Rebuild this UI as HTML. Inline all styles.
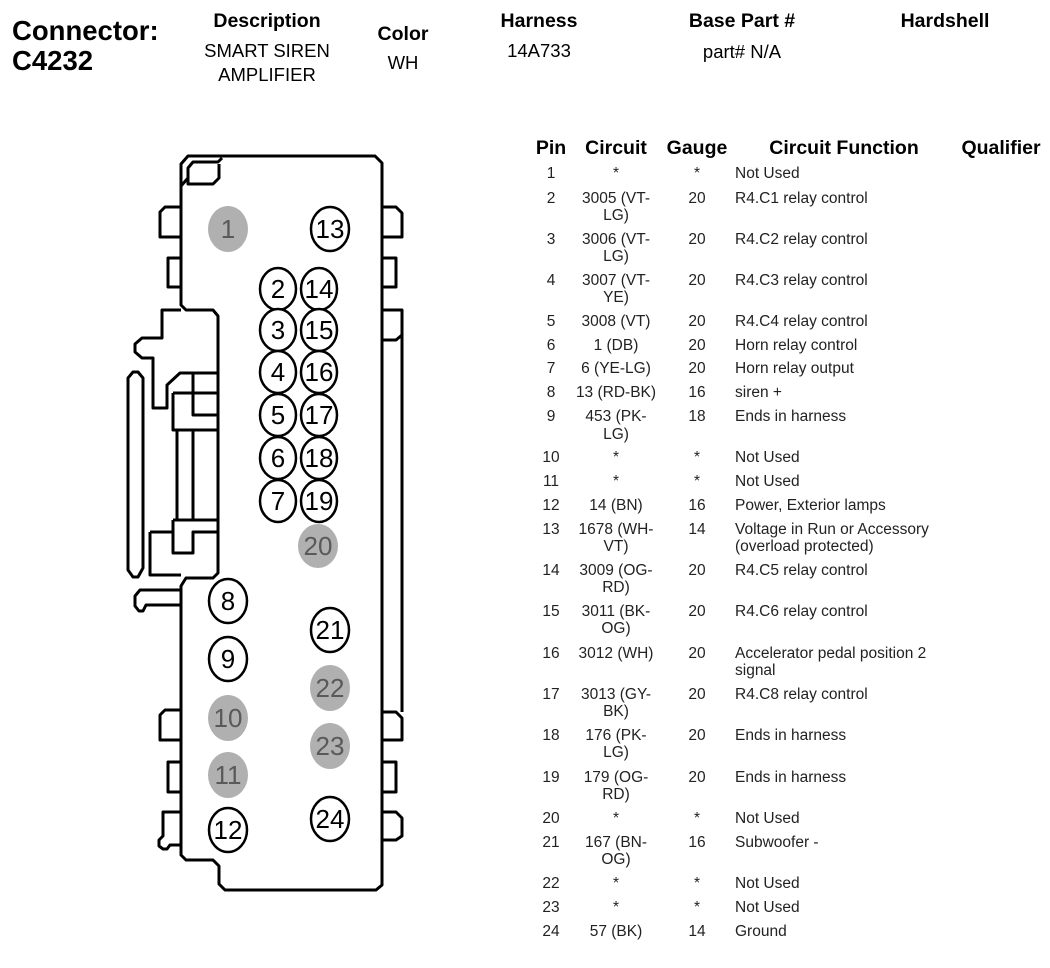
<!DOCTYPE html>
<html><head><meta charset="utf-8"><style>
html,body{margin:0;padding:0;background:#fff;}
svg{display:block;}
text{font-family:"Liberation Sans",Arial,sans-serif;}
.h{font-weight:bold;font-size:19.5px;text-anchor:middle;}
.v{font-size:18.5px;text-anchor:middle;}
.r{font-size:15.5px;fill:#222;}
.c{text-anchor:middle;}
.n{font-size:26px;text-anchor:middle;}
.g{fill:#595959;}
</style></head><body>
<svg width="1050" height="968" viewBox="0 0 1050 968">
<text x="12" y="40" style="font-weight:bold;font-size:27.5px">Connector:</text>
<text x="12" y="70" style="font-weight:bold;font-size:27.5px">C4232</text>
<text x="267" y="27" class="h">Description</text>
<text x="267" y="57" class="v">SMART SIREN</text>
<text x="267" y="81" class="v">AMPLIFIER</text>
<text x="403" y="40" class="h">Color</text>
<text x="403" y="69" class="v">WH</text>
<text x="539" y="27" class="h">Harness</text>
<text x="539" y="57" class="v">14A733</text>
<text x="742" y="27" class="h">Base Part #</text>
<text x="742" y="58" class="v">part# N/A</text>
<text x="945" y="27" class="h">Hardshell</text>

<g fill="none" stroke="#000" stroke-width="3" stroke-linejoin="round">
<path d="M188,156 H375 L382,163 V885 L376,890 H225 L219,884 V866 L213,860 H186 L181,855 V586 L186,578 H213 L218,573 V316 L213,310 H186 L181,305 V164 Z"/>
<path d="M181,186 L188,178 V168 L193,162 H218 L222,158"/>
<path d="M188,168 V184 H213 L219,178 V164"/>
<path d="M181,207 H165 L160,212 V237 H181"/>
<path d="M181,258 H168 V287 H181"/>
<path d="M382,207 H396 L402,213 V237 H382"/>
<path d="M382,258 H396 V287 H382"/>
<path d="M382,310 H402 V712"/>
<path d="M402,335 L396,340 H382"/>
<path d="M181,310 H162 V338 H142 L135,344 V352 L142,358 H153 V408 H167 V385 L180,373 H218"/>
<path d="M128,378 L133,372 H138 L143,378 V568 L138,577 H133 L128,570 Z"/>
<path d="M173,393 H218 M173,393 V430 H218 M193,373 V415 H218"/>
<path d="M177,430 V520 M193,430 V520"/>
<path d="M173,520 H218 M173,520 V553 H193 V532 H218 M150,532 H173 M150,532 V575 H181"/>
<path d="M181,590 H140 L135,596 V606 L139,611 H143 L146,605 H181"/>
<path d="M181,710 H165 L160,715 V740 H181"/>
<path d="M181,762 H168 V792 H181"/>
<path d="M181,812 H163 V836 L159,840 V846 L163,849 H167 L170,845 H181"/>
<path d="M382,712 H396 L402,718 V740 H382"/>
<path d="M382,762 H396 V792 H382"/>
<path d="M382,812 H396 L402,818 V836 L396,840 H382"/>
</g>

<g fill="#b0b0b0" stroke="none">
<ellipse cx="228" cy="229" rx="20" ry="23"/>
<ellipse cx="318" cy="546" rx="20" ry="22"/>
<ellipse cx="228" cy="718" rx="20" ry="23"/>
<ellipse cx="228" cy="775" rx="20" ry="23"/>
<ellipse cx="330" cy="688" rx="20" ry="23"/>
<ellipse cx="330" cy="746" rx="20" ry="23"/>
</g>
<g fill="#fff" stroke="#000" stroke-width="2.5">
<ellipse cx="330" cy="229" rx="19" ry="22"/>
<ellipse cx="278" cy="289" rx="18" ry="21"/><ellipse cx="319" cy="289" rx="18" ry="21"/>
<ellipse cx="278" cy="330" rx="18" ry="21"/><ellipse cx="319" cy="330" rx="18" ry="21"/>
<ellipse cx="278" cy="372" rx="18" ry="21"/><ellipse cx="319" cy="372" rx="18" ry="21"/>
<ellipse cx="278" cy="415" rx="18" ry="21"/><ellipse cx="319" cy="415" rx="18" ry="21"/>
<ellipse cx="278" cy="458" rx="18" ry="21"/><ellipse cx="319" cy="458" rx="18" ry="21"/>
<ellipse cx="278" cy="501" rx="18" ry="21"/><ellipse cx="319" cy="501" rx="18" ry="21"/>
<ellipse cx="228" cy="601" rx="19" ry="22"/>
<ellipse cx="228" cy="659" rx="19" ry="22"/>
<ellipse cx="228" cy="830" rx="19" ry="22"/>
<ellipse cx="330" cy="630" rx="19" ry="22"/>
<ellipse cx="330" cy="819" rx="19" ry="22"/>
</g>
<g class="n">
<text x="228" y="238" class="n g">1</text>
<text x="330" y="238" class="n">13</text>
<text x="278" y="298" class="n">2</text><text x="319" y="298" class="n">14</text>
<text x="278" y="339" class="n">3</text><text x="319" y="339" class="n">15</text>
<text x="278" y="381" class="n">4</text><text x="319" y="381" class="n">16</text>
<text x="278" y="424" class="n">5</text><text x="319" y="424" class="n">17</text>
<text x="278" y="467" class="n">6</text><text x="319" y="467" class="n">18</text>
<text x="278" y="510" class="n">7</text><text x="319" y="510" class="n">19</text>
<text x="318" y="555" class="n g">20</text>
<text x="228" y="610" class="n">8</text>
<text x="228" y="668" class="n">9</text>
<text x="228" y="727" class="n g">10</text>
<text x="228" y="784" class="n g">11</text>
<text x="228" y="839" class="n">12</text>
<text x="330" y="639" class="n">21</text>
<text x="330" y="697" class="n g">22</text>
<text x="330" y="755" class="n g">23</text>
<text x="330" y="828" class="n">24</text>
</g>

<text x="551" y="154" class="h">Pin</text>
<text x="616" y="154" class="h">Circuit</text>
<text x="697" y="154" class="h">Gauge</text>
<text x="844" y="154" class="h">Circuit Function</text>
<text x="1001" y="154" class="h">Qualifier</text>

<g class="r">
<text x="551" y="178" class="c">1</text><text x="616" y="178" class="c">*</text><text x="697" y="178" class="c">*</text><text x="735" y="178">Not Used</text>
<text x="551" y="203" class="c">2</text><text x="616" y="203" class="c">3005 (VT-</text><text x="616" y="220" class="c">LG)</text><text x="697" y="203" class="c">20</text><text x="735" y="203">R4.C1 relay control</text>
<text x="551" y="244" class="c">3</text><text x="616" y="244" class="c">3006 (VT-</text><text x="616" y="261" class="c">LG)</text><text x="697" y="244" class="c">20</text><text x="735" y="244">R4.C2 relay control</text>
<text x="551" y="285" class="c">4</text><text x="616" y="285" class="c">3007 (VT-</text><text x="616" y="302" class="c">YE)</text><text x="697" y="285" class="c">20</text><text x="735" y="285">R4.C3 relay control</text>
<text x="551" y="326" class="c">5</text><text x="616" y="326" class="c">3008 (VT)</text><text x="697" y="326" class="c">20</text><text x="735" y="326">R4.C4 relay control</text>
<text x="551" y="350" class="c">6</text><text x="616" y="350" class="c">1 (DB)</text><text x="697" y="350" class="c">20</text><text x="735" y="350">Horn relay control</text>
<text x="551" y="373" class="c">7</text><text x="616" y="373" class="c">6 (YE-LG)</text><text x="697" y="373" class="c">20</text><text x="735" y="373">Horn relay output</text>
<text x="551" y="397" class="c">8</text><text x="616" y="397" class="c">13 (RD-BK)</text><text x="697" y="397" class="c">16</text><text x="735" y="397">siren +</text>
<text x="551" y="421" class="c">9</text><text x="616" y="421" class="c">453 (PK-</text><text x="616" y="439" class="c">LG)</text><text x="697" y="421" class="c">18</text><text x="735" y="421">Ends in harness</text>
<text x="551" y="462" class="c">10</text><text x="616" y="462" class="c">*</text><text x="697" y="462" class="c">*</text><text x="735" y="462">Not Used</text>
<text x="551" y="486" class="c">11</text><text x="616" y="486" class="c">*</text><text x="697" y="486" class="c">*</text><text x="735" y="486">Not Used</text>
<text x="551" y="510" class="c">12</text><text x="616" y="510" class="c">14 (BN)</text><text x="697" y="510" class="c">16</text><text x="735" y="510">Power, Exterior lamps</text>
<text x="551" y="534" class="c">13</text><text x="616" y="534" class="c">1678 (WH-</text><text x="616" y="551" class="c">VT)</text><text x="697" y="534" class="c">14</text><text x="735" y="534">Voltage in Run or Accessory</text><text x="735" y="551">(overload protected)</text>
<text x="551" y="575" class="c">14</text><text x="616" y="575" class="c">3009 (OG-</text><text x="616" y="592" class="c">RD)</text><text x="697" y="575" class="c">20</text><text x="735" y="575">R4.C5 relay control</text>
<text x="551" y="616" class="c">15</text><text x="616" y="616" class="c">3011 (BK-</text><text x="616" y="633" class="c">OG)</text><text x="697" y="616" class="c">20</text><text x="735" y="616">R4.C6 relay control</text>
<text x="551" y="658" class="c">16</text><text x="616" y="658" class="c">3012 (WH)</text><text x="697" y="658" class="c">20</text><text x="735" y="658">Accelerator pedal position 2</text><text x="735" y="675">signal</text>
<text x="551" y="699" class="c">17</text><text x="616" y="699" class="c">3013 (GY-</text><text x="616" y="716" class="c">BK)</text><text x="697" y="699" class="c">20</text><text x="735" y="699">R4.C8 relay control</text>
<text x="551" y="740" class="c">18</text><text x="616" y="740" class="c">176 (PK-</text><text x="616" y="757" class="c">LG)</text><text x="697" y="740" class="c">20</text><text x="735" y="740">Ends in harness</text>
<text x="551" y="782" class="c">19</text><text x="616" y="782" class="c">179 (OG-</text><text x="616" y="799" class="c">RD)</text><text x="697" y="782" class="c">20</text><text x="735" y="782">Ends in harness</text>
<text x="551" y="823" class="c">20</text><text x="616" y="823" class="c">*</text><text x="697" y="823" class="c">*</text><text x="735" y="823">Not Used</text>
<text x="551" y="847" class="c">21</text><text x="616" y="847" class="c">167 (BN-</text><text x="616" y="864" class="c">OG)</text><text x="697" y="847" class="c">16</text><text x="735" y="847">Subwoofer -</text>
<text x="551" y="888" class="c">22</text><text x="616" y="888" class="c">*</text><text x="697" y="888" class="c">*</text><text x="735" y="888">Not Used</text>
<text x="551" y="912" class="c">23</text><text x="616" y="912" class="c">*</text><text x="697" y="912" class="c">*</text><text x="735" y="912">Not Used</text>
<text x="551" y="936" class="c">24</text><text x="616" y="936" class="c">57 (BK)</text><text x="697" y="936" class="c">14</text><text x="735" y="936">Ground</text>
</g>
</svg>
</body></html>
